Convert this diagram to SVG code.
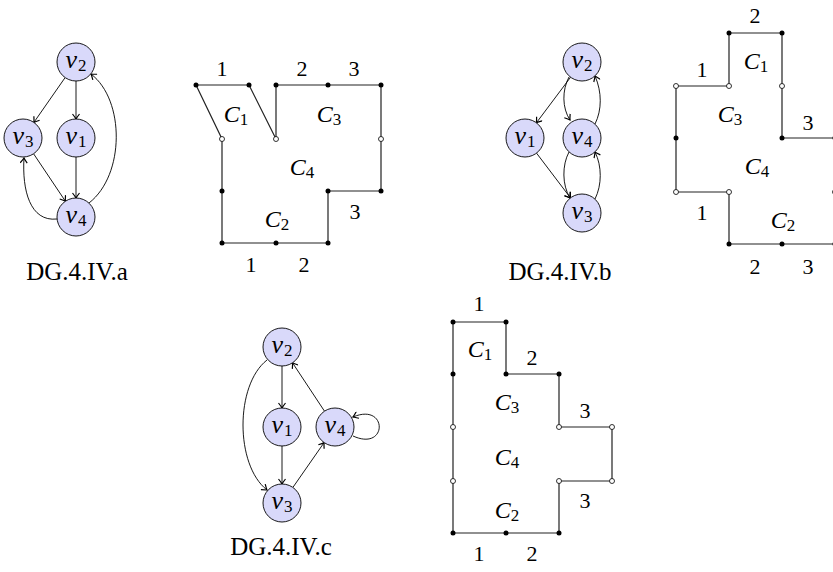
<svg xmlns="http://www.w3.org/2000/svg" width="833" height="572" viewBox="0 0 833 572">
<style>
.node circle{fill:#d9d9fa;stroke:#000;stroke-width:0.9}
.nl{font-family:"Liberation Serif","DejaVu Serif",serif;font-size:26px;text-anchor:middle}
.nl .v{font-style:italic}
.sub{font-size:17px;font-style:normal}
.e{fill:none;stroke:#000;stroke-width:0.9;marker-end:url(#arr)}
.pl{fill:none;stroke:#222;stroke-width:1.2}
.d{fill:#000}
.o{fill:#fff;stroke:#000;stroke-width:0.8}
.num{font-family:"Liberation Serif","DejaVu Serif",serif;font-size:22px;text-anchor:middle}
.c{font-family:"Liberation Serif","DejaVu Serif",serif;font-size:24px;text-anchor:middle}
.c .i{font-style:italic}
.cap{font-family:"Liberation Serif","DejaVu Serif",serif;font-size:25px;text-anchor:middle}
</style>
<defs>
<marker id="arr" viewBox="-6 -4 7 8" refX="0" refY="0" markerWidth="7" markerHeight="8" orient="auto" markerUnits="userSpaceOnUse">
<path d="M-5,-3.5 Q-1.5,-0.8 0,0 Q-1.5,0.8 -5,3.5" fill="none" stroke="#000" stroke-width="1.2"/>
</marker>
</defs>

<!-- Graph a -->
<g id="graph-a-edges">
<path class="e" d="M65.1,77.6 L33.9,122.4"/>
<path class="e" d="M76,81 L76,119"/>
<path class="e" d="M76,157 L76,198"/>
<path class="e" d="M33.6,153.8 L65.4,201.2"/>
<path class="e" d="M57,219 C30,222 22,190 24,158"/>
<path class="e" d="M89,203 C125,175 125,100 91,74"/>
</g>
<g id="a-v2" class="node"><circle cx="76" cy="62" r="19"/><text class="nl" x="76" y="68"><tspan class="v">v</tspan><tspan class="sub" dx="1" dy="3">2</tspan></text></g>
<g id="a-v3" class="node"><circle cx="23" cy="138" r="19"/><text class="nl" x="23" y="144"><tspan class="v">v</tspan><tspan class="sub" dx="1" dy="3">3</tspan></text></g>
<g id="a-v1" class="node"><circle cx="76" cy="138" r="19"/><text class="nl" x="76" y="144"><tspan class="v">v</tspan><tspan class="sub" dx="1" dy="3">1</tspan></text></g>
<g id="a-v4" class="node"><circle cx="76" cy="217" r="19"/><text class="nl" x="76" y="223"><tspan class="v">v</tspan><tspan class="sub" dx="1" dy="3">4</tspan></text></g>
<text id="cap-a" class="cap" x="77" y="280">DG.4.IV.a</text>

<!-- Planar a -->
<g id="planar-a">
<path class="pl" d="M196,85 L249,85 M196,85 L222,139 L222,243 L328,243 L328,191 L381,191 L381,85 L276,85 L276,139 L249,85"/>
<circle class="d" cx="196" cy="85" r="2.5"/><circle class="d" cx="249" cy="85" r="2.5"/>
<circle class="d" cx="276" cy="85" r="2.5"/><circle class="d" cx="328" cy="85" r="2.5"/><circle class="d" cx="381" cy="85" r="2.5"/>
<circle class="o" cx="222" cy="139" r="2.5"/><circle class="o" cx="276" cy="139" r="2.5"/><circle class="o" cx="381" cy="139" r="2.5"/>
<circle class="d" cx="222" cy="191" r="2.5"/><circle class="d" cx="328" cy="191" r="2.5"/><circle class="d" cx="381" cy="191" r="2.5"/>
<circle class="d" cx="222" cy="243" r="2.5"/><circle class="d" cx="276" cy="243" r="2.5"/><circle class="d" cx="328" cy="243" r="2.5"/>
<text class="num" x="222" y="76">1</text><text class="num" x="302" y="76">2</text><text class="num" x="354" y="76">3</text>
<text class="num" x="355" y="219">3</text>
<text class="num" x="251" y="272">1</text><text class="num" x="304" y="272">2</text>
<text class="c" x="236" y="122"><tspan class="i">C</tspan><tspan class="sub" dy="3">1</tspan></text>
<text class="c" x="329" y="122"><tspan class="i">C</tspan><tspan class="sub" dy="3">3</tspan></text>
<text class="c" x="302" y="175"><tspan class="i">C</tspan><tspan class="sub" dy="3">4</tspan></text>
<text class="c" x="277" y="227"><tspan class="i">C</tspan><tspan class="sub" dy="3">2</tspan></text>
</g>

<!-- Graph b -->
<g id="graph-b-edges">
<path class="e" d="M570.6,77.2 L536.4,122.8"/>
<path class="e" d="M536.5,153.1 L570.5,197.9"/>
<path class="e" d="M569,77 C562,90 562,108 570,120"/>
<path class="e" d="M595,124 C602,110 602,92 595,76"/>
<path class="e" d="M569,152 C562,165 562,185 570,198"/>
<path class="e" d="M595,199 C602,185 602,166 595,152"/>
</g>
<g id="b-v2" class="node"><circle cx="582" cy="62" r="19"/><text class="nl" x="582" y="68"><tspan class="v">v</tspan><tspan class="sub" dx="1" dy="3">2</tspan></text></g>
<g id="b-v1" class="node"><circle cx="525" cy="138" r="19"/><text class="nl" x="525" y="144"><tspan class="v">v</tspan><tspan class="sub" dx="1" dy="3">1</tspan></text></g>
<g id="b-v4" class="node"><circle cx="582" cy="138" r="19"/><text class="nl" x="582" y="144"><tspan class="v">v</tspan><tspan class="sub" dx="1" dy="3">4</tspan></text></g>
<g id="b-v3" class="node"><circle cx="582" cy="213" r="19"/><text class="nl" x="582" y="219"><tspan class="v">v</tspan><tspan class="sub" dx="1" dy="3">3</tspan></text></g>
<text id="cap-b" class="cap" x="560" y="280">DG.4.IV.b</text>

<!-- Planar b -->
<g id="planar-b">
<path class="pl" d="M729,33 L782,33 L782,138 L835,138 L835,244 L729,244 L729,192 L676,192 L676,86 L729,86 L729,33"/>
<circle class="d" cx="729" cy="33" r="2.5"/><circle class="d" cx="782" cy="33" r="2.5"/>
<circle class="o" cx="676" cy="86" r="2.5"/><circle class="o" cx="729" cy="86" r="2.5"/><circle class="o" cx="782" cy="86" r="2.5"/>
<circle class="d" cx="676" cy="138" r="2.5"/><circle class="d" cx="782" cy="138" r="2.5"/><circle class="d" cx="835" cy="138" r="2.5"/>
<circle class="o" cx="676" cy="192" r="2.5"/><circle class="o" cx="729" cy="192" r="2.5"/><circle class="o" cx="835" cy="192" r="2.5"/>
<circle class="d" cx="729" cy="244" r="2.5"/><circle class="d" cx="782" cy="244" r="2.5"/><circle class="d" cx="835" cy="244" r="2.5"/>
<text class="num" x="755" y="23">2</text>
<text class="num" x="702" y="77">1</text>
<text class="num" x="808" y="130">3</text>
<text class="num" x="702" y="220">1</text>
<text class="num" x="755" y="274">2</text><text class="num" x="808" y="274">3</text>
<text class="c" x="756" y="69"><tspan class="i">C</tspan><tspan class="sub" dy="3">1</tspan></text>
<text class="c" x="730" y="122"><tspan class="i">C</tspan><tspan class="sub" dy="3">3</tspan></text>
<text class="c" x="757" y="174"><tspan class="i">C</tspan><tspan class="sub" dy="3">4</tspan></text>
<text class="c" x="783" y="228"><tspan class="i">C</tspan><tspan class="sub" dy="3">2</tspan></text>
</g>

<!-- Graph c -->
<g id="graph-c-edges">
<path class="e" d="M282,366 L282,408"/>
<path class="e" d="M282,446 L282,484"/>
<path class="e" d="M292.9,487.4 L324.1,442.6"/>
<path class="e" d="M324.5,411.2 L292.5,362.8"/>
<path class="e" d="M267,360 C235,385 235,465 267,490"/>
<path class="e" d="M353,436 C388,452 388,402 353,417"/>
</g>
<g id="c-v2" class="node"><circle cx="282" cy="347" r="19"/><text class="nl" x="282" y="353"><tspan class="v">v</tspan><tspan class="sub" dx="1" dy="3">2</tspan></text></g>
<g id="c-v1" class="node"><circle cx="282" cy="427" r="19"/><text class="nl" x="282" y="433"><tspan class="v">v</tspan><tspan class="sub" dx="1" dy="3">1</tspan></text></g>
<g id="c-v4" class="node"><circle cx="335" cy="427" r="19"/><text class="nl" x="335" y="433"><tspan class="v">v</tspan><tspan class="sub" dx="1" dy="3">4</tspan></text></g>
<g id="c-v3" class="node"><circle cx="282" cy="503" r="19"/><text class="nl" x="282" y="509"><tspan class="v">v</tspan><tspan class="sub" dx="1" dy="3">3</tspan></text></g>
<text id="cap-c" class="cap" x="281" y="555">DG.4.IV.c</text>

<!-- Planar c -->
<g id="planar-c">
<path class="pl" d="M453,322 L506,322 L506,374 L559,374 L559,427 L612,427 L612,481 L559,481 L559,533 L453,533 Z"/>
<circle class="d" cx="453" cy="322" r="2.5"/><circle class="d" cx="506" cy="322" r="2.5"/>
<circle class="d" cx="453" cy="374" r="2.5"/><circle class="d" cx="506" cy="374" r="2.5"/><circle class="d" cx="559" cy="374" r="2.5"/>
<circle class="o" cx="453" cy="427" r="2.5"/><circle class="o" cx="559" cy="427" r="2.5"/><circle class="o" cx="612" cy="427" r="2.5"/>
<circle class="o" cx="453" cy="481" r="2.5"/><circle class="o" cx="559" cy="481" r="2.5"/><circle class="o" cx="612" cy="481" r="2.5"/>
<circle class="d" cx="453" cy="533" r="2.5"/><circle class="d" cx="506" cy="533" r="2.5"/><circle class="d" cx="559" cy="533" r="2.5"/>
<text class="num" x="479" y="311">1</text>
<text class="num" x="532" y="365">2</text>
<text class="num" x="585" y="418">3</text>
<text class="num" x="585" y="508">3</text>
<text class="num" x="479" y="561">1</text><text class="num" x="532" y="561">2</text>
<text class="c" x="480" y="357"><tspan class="i">C</tspan><tspan class="sub" dy="3">1</tspan></text>
<text class="c" x="507" y="410"><tspan class="i">C</tspan><tspan class="sub" dy="3">3</tspan></text>
<text class="c" x="507" y="465"><tspan class="i">C</tspan><tspan class="sub" dy="3">4</tspan></text>
<text class="c" x="507" y="518"><tspan class="i">C</tspan><tspan class="sub" dy="3">2</tspan></text>
</g>
</svg>
